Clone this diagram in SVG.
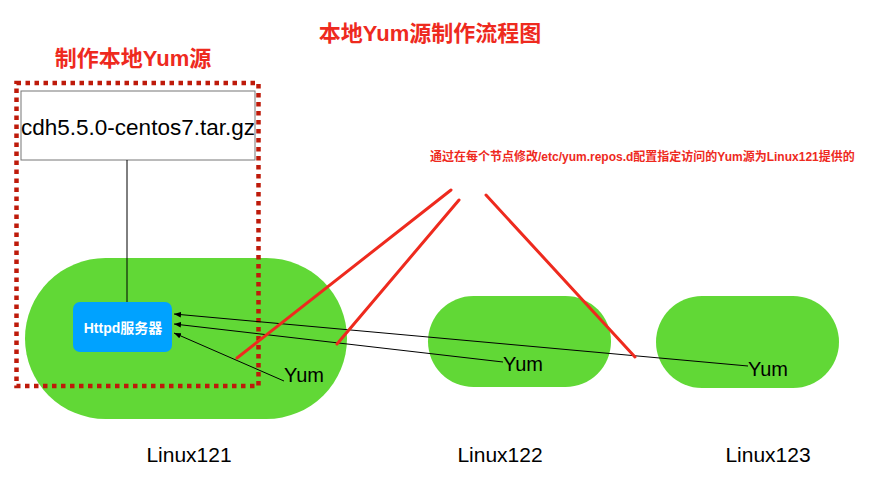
<svg xmlns="http://www.w3.org/2000/svg" width="872" height="485" viewBox="0 0 872 485">
<defs>
<style>
.pill{fill:#61D836;}
.red{fill:#EE2A1E;font-family:"Liberation Sans","Noto Sans CJK SC",sans-serif;font-weight:bold;}
.lbl{fill:#000;font-family:"Liberation Sans","Noto Sans CJK SC",sans-serif;}
.conn{stroke:#000;stroke-width:1;fill:none;}
.rl{stroke:#EE2A1E;stroke-width:3;fill:none;stroke-linecap:round;}
</style>
<marker id="ah" viewBox="0 0 10 10" refX="10" refY="5" markerWidth="7" markerHeight="7" orient="auto" markerUnits="userSpaceOnUse">
<path d="M0,1 L10,5 L0,9 z" fill="#000"/>
</marker>
</defs>
<rect width="872" height="485" fill="#fff"/>
<text class="red" x="430" y="41" font-size="22" text-anchor="middle">本地Yum源制作流程图</text>
<text class="red" x="133" y="66" font-size="22" text-anchor="middle">制作本地Yum源</text>
<g id="linux121">
<rect class="pill" x="25" y="258" width="322" height="161" rx="80.5"/>
<text class="lbl" x="189" y="462" font-size="21" text-anchor="middle">Linux121</text>
</g>
<g id="linux122">
<rect class="pill" x="428" y="296" width="183" height="91" rx="45.5"/>
<text class="lbl" x="500" y="462" font-size="21" text-anchor="middle">Linux122</text>
</g>
<g id="linux123">
<rect class="pill" x="656" y="296" width="183" height="92" rx="46"/>
<text class="lbl" x="768" y="462" font-size="21" text-anchor="middle">Linux123</text>
</g>
<g id="local-yum-box">
<rect x="16.5" y="83" width="242" height="303" fill="none" stroke="#BE1A0A" stroke-width="4.5" stroke-dasharray="4.5 4.5"/>
</g>
<g id="tarball">
<rect x="21" y="91" width="234" height="69" fill="#fff" stroke="#777" stroke-width="1"/>
<text class="lbl" x="138" y="135" font-size="22.5" text-anchor="middle">cdh5.5.0-centos7.tar.gz</text>
</g>
<g id="connectors">
<line class="conn" x1="127" y1="160" x2="127" y2="302" stroke="#333"/>
<line class="conn" x1="748" y1="366" x2="174" y2="314" marker-end="url(#ah)"/>
<line class="conn" x1="503" y1="362" x2="174" y2="324" marker-end="url(#ah)"/>
<line class="conn" x1="284" y1="381" x2="174" y2="333" marker-end="url(#ah)"/>
</g>
<g id="httpd">
<rect x="73" y="302" width="99" height="50" rx="7" fill="#00A2FF"/>
<text x="123" y="333" font-size="14" font-weight="bold" fill="#fff" text-anchor="middle" font-family="Liberation Sans,Noto Sans CJK SC,sans-serif">Httpd服务器</text>
</g>
<g id="annotation-lines">
<line class="rl" x1="451" y1="190" x2="237" y2="358"/>
<line class="rl" x1="459" y1="200" x2="337" y2="344"/>
<line class="rl" x1="486" y1="195" x2="635" y2="357"/>
</g>
<g id="yum-labels">
<text class="lbl" x="284" y="382" font-size="20">Yum</text>
<text class="lbl" x="503" y="371" font-size="20">Yum</text>
<text class="lbl" x="748" y="376" font-size="20">Yum</text>
</g>
<g id="note">
<text class="red" x="430" y="161" font-size="12">通过在每个节点修改/etc/yum.repos.d配置指定访问的Yum源为Linux121提供的</text>
</g>
</svg>
